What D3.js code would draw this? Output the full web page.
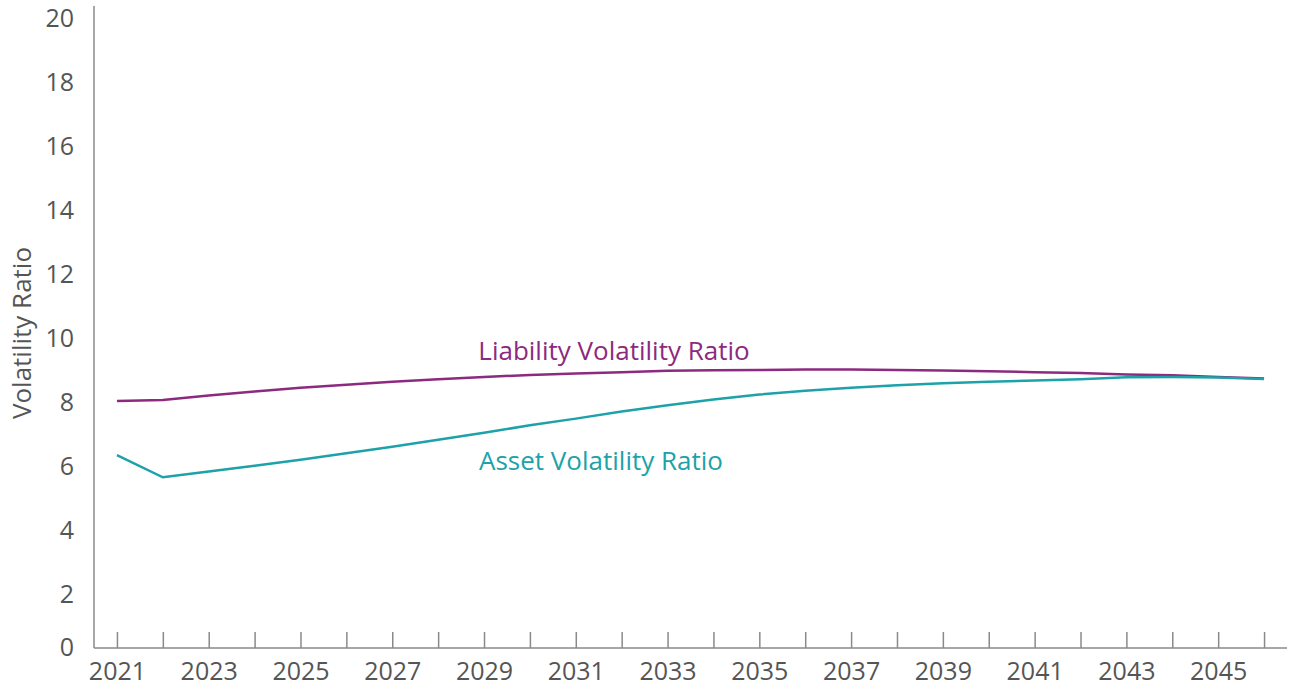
<!DOCTYPE html>
<html>
<head>
<meta charset="utf-8">
<script src="https://cdn.jsdelivr.net/npm/d3@7"></script>
<style>
  body { margin: 0; background: #fff; }
  svg { display: block; font-family: "Open Sans", "Noto Sans", sans-serif; }
</style>
</head>
<body>
<script>
let years = d3.range(2021, 2047);
let liability = [8.05, 8.08, 8.22, 8.35, 8.46, 8.56, 8.65, 8.73, 8.80, 8.86, 8.91, 8.95, 8.99,
                 9.01, 9.02, 9.03, 9.03, 9.02, 9.00, 8.98, 8.95, 8.92, 8.88, 8.85, 8.80, 8.75];
let asset = [6.36, 5.67, 5.85, 6.03, 6.22, 6.42, 6.62, 6.84, 7.06, 7.29, 7.50, 7.72, 7.92,
             8.10, 8.25, 8.37, 8.46, 8.54, 8.60, 8.65, 8.69, 8.73, 8.79, 8.80, 8.78, 8.74];
let yTicks = [0, 2, 4, 6, 8, 10, 12, 14, 16, 18, 20];

let width = 1290;
let height = 693;
let svg = d3.select("body").append("svg")
            .attr("width", width)
            .attr("height", height);

let axisColor = "#8a8a8a";
let textColor = "#555";
let baseY = 648;  // where the x axis sits

let x = d3.scalePoint(years, [94, 1287]).padding(0.5);
let y = d3.scaleLinear([0, 20], [659, 18]);

// x axis, ticks point up
let xAxis = svg.append("g")
  .attr("transform", `translate(0,${baseY})`)
  .call(d3.axisBottom(x)
          .tickSize(-16)
          .tickPadding(14)
          .tickFormat(d => (d % 2 === 1 ? d : "")));
xAxis.select(".domain").remove();
xAxis.selectAll(".tick line").attr("stroke", axisColor).attr("stroke-width", 1.5);
xAxis.selectAll(".tick text")
     .attr("fill", textColor)
     .attr("font-size", 25)
     .attr("font-family", "Open Sans, sans-serif");

svg.append("line")
   .attr("x1", 94).attr("x2", 1287)
   .attr("y1", baseY).attr("y2", baseY)
   .attr("stroke", axisColor).attr("stroke-width", 1.5);

// y axis, labels only
let yAxis = svg.append("g")
  .attr("transform", "translate(94,0)")
  .call(d3.axisLeft(y).tickValues(yTicks).tickSize(0).tickPadding(20));
yAxis.select(".domain").remove();
yAxis.selectAll(".tick text")
     .attr("fill", textColor)
     .attr("font-size", 25)
     .attr("font-family", "Open Sans, sans-serif");
// the zero label sits on the baseline
yAxis.selectAll(".tick").filter(d => d === 0)
     .attr("transform", `translate(0,${baseY})`);

svg.append("line")
   .attr("x1", 94).attr("x2", 94)
   .attr("y1", 6).attr("y2", baseY)
   .attr("stroke", axisColor).attr("stroke-width", 1.5);

svg.append("text")
   .attr("transform", "translate(31,333) rotate(-90)")
   .attr("text-anchor", "middle")
   .attr("fill", textColor)
   .attr("font-size", 26)
   .text("Volatility Ratio");

let line = d3.line()
  .x((d, i) => x(years[i]))
  .y(d => y(d));

svg.append("path").datum(liability)
   .attr("d", line)
   .attr("fill", "none")
   .attr("stroke", "#8c2a7f")
   .attr("stroke-width", 2.5);

svg.append("path").datum(asset)
   .attr("d", line)
   .attr("fill", "none")
   .attr("stroke", "#1ca2a8")
   .attr("stroke-width", 2.5);

svg.append("text")
   .attr("x", 614).attr("y", 360)
   .attr("text-anchor", "middle")
   .attr("fill", "#8c2a7f")
   .attr("font-size", 26)
   .text("Liability Volatility Ratio");

svg.append("text")
   .attr("x", 601).attr("y", 470)
   .attr("text-anchor", "middle")
   .attr("fill", "#1ca2a8")
   .attr("font-size", 26)
   .text("Asset Volatility Ratio");
</script>
</body>
</html>
